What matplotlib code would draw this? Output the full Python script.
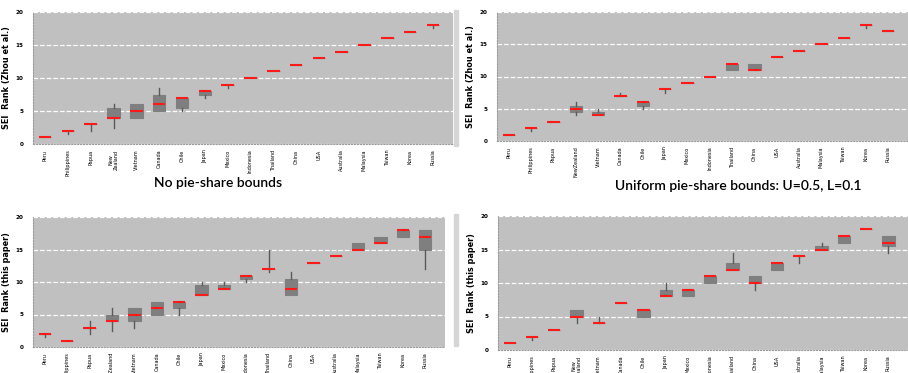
import matplotlib
matplotlib.use('Agg')
import matplotlib.pyplot as plt
from matplotlib.patches import Rectangle

plt.rcParams['font.family'] = ['DejaVu Sans']
plt.rcParams['font.stretch'] = 'condensed'

# Paises (ordem do eixo x)
paises = ['Peru', 'Philippines', 'Papua', 'New\nZealand', 'Vietnam', 'Canada', 'Chile', 'Japan',
          'Mexico', 'Indonesia', 'Thailand', 'China', 'USA', 'Australia', 'Malaysia',
          'Taiwan', 'Korea', 'Russia']
rotulos_tr = paises[:3] + ['NewZealand'] + paises[4:]
rotulos_bl = paises[:3] + ['New Zealand'] + paises[4:]

# Cada lista: [whisker inferior, q1, mediana, q3, whisker superior]
zhou_sem_limites = [
    [1, 1, 1, 1, 1], [1.5, 2, 2, 2, 2], [2, 3, 3, 3, 3], [2.5, 4, 4, 5.5, 6],
    [4, 4, 5, 6, 6], [5, 5, 6, 7.5, 8.5], [5, 5.5, 7, 7, 7], [7, 7.5, 8, 8, 8],
    [8.5, 9, 9, 9, 9], [10, 10, 10, 10, 10], [11, 11, 11, 11, 11], [12, 12, 12, 12, 12],
    [13, 13, 13, 13, 13], [14, 14, 14, 14, 14], [15, 15, 15, 15, 15], [16, 16, 16, 16, 16],
    [17, 17, 17, 17, 17], [17.5, 18, 18, 18, 18],
]
zhou_uniforme = [
    [1, 1, 1, 1, 1], [1.5, 2, 2, 2, 2], [3, 3, 3, 3, 3], [4, 4.5, 5, 5.5, 6],
    [4, 4, 4, 4.5, 5], [7, 7, 7, 7, 7.5], [5, 5.5, 6, 6, 6], [7.5, 8, 8, 8, 8],
    [9, 9, 9, 9, 9], [10, 10, 10, 10, 10], [11, 11, 12, 12, 12], [11, 11, 11, 12, 12],
    [13, 13, 13, 13, 13], [14, 14, 14, 14, 14], [15, 15, 15, 15, 15], [16, 16, 16, 16, 16],
    [17.5, 18, 18, 18, 18], [17, 17, 17, 17, 17],
]
paper_sem_limites = [
    [1.5, 2, 2, 2, 2], [1, 1, 1, 1, 1], [2, 3, 3, 3, 4], [2.5, 4, 4, 5, 6],
    [3, 4, 5, 6, 6], [5, 5, 6, 7, 7], [5, 6, 7, 7, 7], [8, 8, 8, 9.5, 10],
    [9, 9, 9, 9.5, 10], [10, 10.5, 11, 11, 11], [11.5, 12, 12, 12, 15], [8, 8, 9, 10.5, 11.5],
    [13, 13, 13, 13, 13], [14, 14, 14, 14, 14], [15, 15, 15, 16, 16], [16, 16, 16, 17, 17],
    [17, 17, 18, 18, 18], [12, 15, 17, 18, 18],
]
paper_uniforme = [
    [1, 1, 1, 1, 1], [1.5, 2, 2, 2, 2], [3, 3, 3, 3, 3], [4, 5, 5, 6, 6],
    [4, 4, 4, 4, 5], [7, 7, 7, 7, 7], [5, 5, 6, 6, 6], [8, 8, 8, 9, 10],
    [8, 8, 9, 9, 9], [10, 10, 11, 11, 11], [12, 12, 12, 13, 14.5], [9, 10, 10, 11, 11],
    [12, 12, 13, 13, 13], [13, 14, 14, 14, 14], [15, 15, 15, 15.5, 16], [16, 16, 17, 17, 17],
    [18, 18, 18, 18, 18], [14.5, 15.5, 16, 17, 17],
]


def desenhar_painel(ax, dados, rotulos, ylabel):
    stats = []
    for d in dados:
        stats.append({'whislo': d[0], 'q1': d[1], 'med': d[2], 'q3': d[3], 'whishi': d[4]})
    ax.set_facecolor('#c0c0c0')
    ax.bxp(stats, positions=range(1, len(stats) + 1), widths=0.55, patch_artist=True,
           showfliers=False, showcaps=False,
           boxprops=dict(facecolor='#7f7f7f', edgecolor='#7f7f7f', linewidth=0.8),
           medianprops=dict(color='#ff1a1a', linewidth=1.5),
           whiskerprops=dict(color='#5a5a5a', linewidth=1))
    ax.set_ylim(0, 20)
    ax.set_xlim(0.47, 18.88)
    ax.set_yticks([0, 5, 10, 15, 20])
    ax.set_xticks(range(1, len(rotulos) + 1))
    ax.set_xticklabels(rotulos, rotation=90, fontsize=4, va='top', linespacing=1.0)
    ax.tick_params(axis='y', labelsize=4.5, length=0, pad=7)
    ax.tick_params(axis='x', length=0, pad=4)
    for lbl in ax.get_yticklabels():
        lbl.set_fontweight('bold')
    ax.yaxis.grid(True, color='white', linestyle='--', linewidth=0.9)
    ax.set_axisbelow(True)
    for lado in ['top', 'right']:
        ax.spines[lado].set_visible(False)
    for lado in ['left', 'bottom']:
        ax.spines[lado].set_color('#9a9a9a')
        ax.spines[lado].set_linestyle(':')
        ax.spines[lado].set_linewidth(0.8)
    ax.set_ylabel(ylabel, fontsize=6.5, fontweight='bold', labelpad=3)


W, H = 908, 373
fig = plt.figure(figsize=(W / 100, H / 100), dpi=100)


def eixo_px(x0, y_top, x1, y_bot):
    return fig.add_axes([x0 / W, (H - y_bot) / H, (x1 - x0) / W, (y_bot - y_top) / H])


# faixa cinza clara entre os paineis
fig.patches.append(Rectangle((454 / W, (H - 146) / H), 4 / W, 136 / H,
                             transform=fig.transFigure, color='#d6d6d6', zorder=0))
fig.patches.append(Rectangle((454 / W, (H - 346) / H), 4 / W, 132 / H,
                             transform=fig.transFigure, color='#d6d6d6', zorder=0))

ax1 = eixo_px(33, 12, 453, 144)
desenhar_painel(ax1, zhou_sem_limites, paises, 'SEI  Rank (Zhou et al.)')
ax2 = eixo_px(497, 12, 908, 141)
desenhar_painel(ax2, zhou_uniforme, rotulos_tr, 'SEI  Rank (Zhou et al.)')
ax3 = eixo_px(33, 217, 445, 347)
desenhar_painel(ax3, paper_sem_limites, rotulos_bl, 'SEI  Rank (this paper)')
ax4 = eixo_px(498, 216, 908, 350)
desenhar_painel(ax4, paper_uniforme, paises, 'SEI  Rank (this paper)')

fig.text(218 / W, 1 - 183 / H, 'No pie-share bounds', fontsize=10, family=['Lato', 'DejaVu Sans'],
         fontweight='semibold', fontstretch='normal', ha='center', va='center')
fig.text(738 / W, 1 - 186 / H, 'Uniform pie-share bounds: U=0.5, L=0.1', fontsize=10,
         family=['Lato', 'DejaVu Sans'], fontweight='semibold', fontstretch='normal',
         ha='center', va='center')

fig.savefig('out.png', dpi=100)
plt.close()
